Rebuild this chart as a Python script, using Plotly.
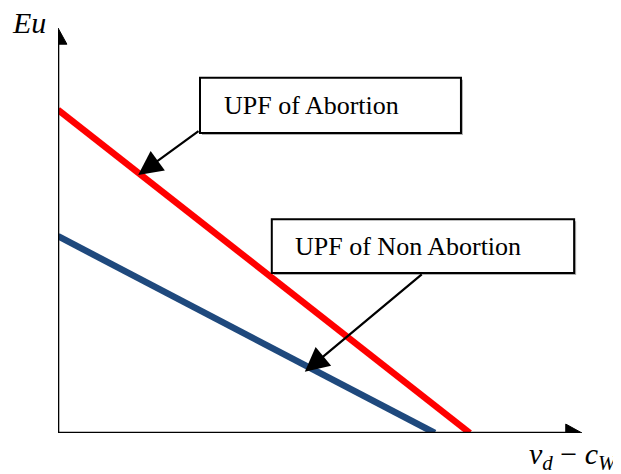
import plotly.graph_objects as go

# ---- data (abstract units on the Eu / (v_d - c_W) plane) ----
abortion_x = [0.0, 7.86]
abortion_y = [7.98, 0.0]
non_abortion_x = [0.0, 7.19]
non_abortion_y = [4.86, 0.0]

label_abortion = "UPF of Abortion"
label_non_abortion = "UPF of Non Abortion"
y_label = "<i>Eu</i>"
x_label = "<i>v</i><sub><i>d</i></sub> − <i>c</i><sub><i>W</i></sub>"

# page body has an 8px margin, so the figure is drawn 8px smaller
W, H = 613, 466
L, R, T, B = 50, 39, 20, 41
XMAX, YMAX = 10.0, 10.0
PX, PY = 524 / XMAX, 405 / YMAX  # pixels per data unit

fig = go.Figure()

fig.add_trace(go.Scatter(x=abortion_x, y=abortion_y, mode="lines",
                         line=dict(color="#FF0000", width=6.5), showlegend=False,
                         hoverinfo="skip"))
fig.add_trace(go.Scatter(x=non_abortion_x, y=non_abortion_y, mode="lines",
                         line=dict(color="#1F497D", width=6.5), showlegend=False,
                         hoverinfo="skip"))

shapes = []
# axes
shapes.append(dict(type="line", x0=0, y0=0, x1=9.8, y1=0, line=dict(color="black", width=2.6), layer="above"))
shapes.append(dict(type="line", x0=0, y0=0, x1=0, y1=9.75, line=dict(color="black", width=2.6), layer="above"))
# arrowheads
shapes.append(dict(type="path", path="M 10 0 L 9.69 0.22 L 9.69 -0.22 Z",
                   fillcolor="black", line=dict(color="black", width=1), layer="above"))
shapes.append(dict(type="path", path="M 0 10 L 0.17 9.6 L -0.17 9.6 Z",
                   fillcolor="black", line=dict(color="black", width=1), layer="above"))

# label boxes (with light shadow)
def box(x0, x1, y0, y1):
    dx, dy = 2 / PX, 2 / PY
    shapes.append(dict(type="rect", x0=x0 + dx, x1=x1 + dx, y0=y0 - dy, y1=y1 - dy,
                       fillcolor="#B0B0B0", line=dict(width=0), layer="above"))
    shapes.append(dict(type="rect", x0=x0, x1=x1, y0=y0, y1=y1,
                       fillcolor="white", line=dict(color="black", width=2), layer="above"))

box(2.71, 7.69, 7.41, 8.77)
box(4.08, 9.85, 3.95, 5.28)

annotations = [
    dict(x=3.13, y=8.08, xref="x", yref="y", text=label_abortion, showarrow=False,
         xanchor="left", yanchor="middle",
         font=dict(family="Liberation Serif", size=26, color="black")),
    dict(x=4.48, y=4.60, xref="x", yref="y", text=label_non_abortion, showarrow=False,
         xanchor="left", yanchor="middle",
         font=dict(family="Liberation Serif", size=26, color="black")),
    # pointer arrows
    dict(x=1.53, y=6.37, ax=2.71, ay=7.48, xref="x", yref="y", axref="x", ayref="y",
         text="", showarrow=True, arrowhead=2, arrowsize=2.2, arrowwidth=2.2, arrowcolor="black"),
    dict(x=4.71, y=1.51, ax=6.97, ay=3.95, xref="x", yref="y", axref="x", ayref="y",
         text="", showarrow=True, arrowhead=2, arrowsize=2.2, arrowwidth=2.2, arrowcolor="black"),
    # axis labels
    dict(x=-48 / 524, y=(433 - 23) / 405, xref="paper", yref="paper", text=y_label,
         showarrow=False, xanchor="left", yanchor="middle",
         font=dict(family="Liberation Serif", size=30, color="black")),
    dict(x=(612 - 50) / 524, y=(433 - 456) / 405, xref="paper", yref="paper", text=x_label,
         showarrow=False, xanchor="right", yanchor="middle",
         font=dict(family="Liberation Serif", size=30, color="black")),
]

fig.update_layout(
    width=W, height=H,
    margin=dict(l=L, r=R, t=T, b=B, pad=0),
    paper_bgcolor="white", plot_bgcolor="white",
    shapes=shapes, annotations=annotations,
    xaxis=dict(range=[0, XMAX], visible=False, fixedrange=True),
    yaxis=dict(range=[0, YMAX], visible=False, fixedrange=True),
)

fig.write_html("out.html")
